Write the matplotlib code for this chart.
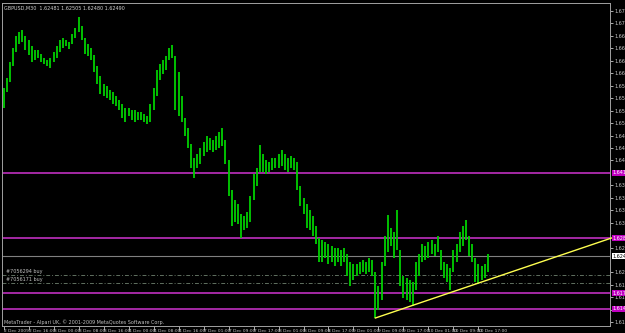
import numpy as np
import matplotlib
matplotlib.use('Agg')
import matplotlib.pyplot as plt
import matplotlib.transforms as mtransforms

# hourly bar highs / lows (GBPUSD)
highs = [1.6585, 1.6605, 1.6637, 1.6665, 1.6689, 1.6697, 1.6701, 1.6689, 1.6681, 1.6669,
         1.6661, 1.6661, 1.6653, 1.6645, 1.6641, 1.6645, 1.6657, 1.6669, 1.6681, 1.6685,
         1.6681, 1.6677, 1.6693, 1.6705, 1.6727, 1.6709, 1.6685, 1.6673, 1.6665, 1.6651,
         1.6629, 1.6609, 1.6593, 1.6589, 1.6581, 1.6577, 1.6569, 1.6561, 1.6553, 1.6545,
         1.6545, 1.6541, 1.6541, 1.6537, 1.6537, 1.6533, 1.6529, 1.6553, 1.6585, 1.6621,
         1.6633, 1.6641, 1.6649, 1.6665, 1.6671, 1.6649, 1.6617, 1.6569, 1.6525, 1.6505,
         1.6473, 1.6445, 1.6453, 1.6465, 1.6477, 1.6489, 1.6485, 1.6481, 1.6489, 1.6497,
         1.6505, 1.6481, 1.6441, 1.6381, 1.6361, 1.6353, 1.6333, 1.6329, 1.6337, 1.6369,
         1.6413, 1.6425, 1.6471, 1.6453, 1.6441, 1.6437, 1.6445, 1.6445, 1.6453, 1.6461,
         1.6453, 1.6445, 1.6449, 1.6445, 1.6437, 1.6389, 1.6365, 1.6353, 1.6341, 1.6329,
         1.6309, 1.6285, 1.6281, 1.6277, 1.6273, 1.6269, 1.6265, 1.6265, 1.6261, 1.6265,
         1.6253, 1.6237, 1.6233, 1.6233, 1.6237, 1.6241, 1.6237, 1.6245, 1.6241, 1.6217,
         1.6189, 1.6237, 1.6289, 1.6331, 1.6305, 1.6297, 1.6341, 1.6261, 1.6209, 1.6205,
         1.6201, 1.6197, 1.6237, 1.6253, 1.6273, 1.6269, 1.6277, 1.6281, 1.6273, 1.6289,
         1.6261, 1.6237, 1.6233, 1.6225, 1.6261, 1.6273, 1.6297, 1.6309, 1.6321, 1.6289,
         1.6273, 1.6245, 1.6233, 1.6229, 1.6233, 1.6253]
lows = [1.6545, 1.6577, 1.6597, 1.6629, 1.6657, 1.6673, 1.6677, 1.6661, 1.6651, 1.6637,
        1.6641, 1.6645, 1.6637, 1.6633, 1.6629, 1.6625, 1.6637, 1.6645, 1.6657, 1.6665,
        1.6669, 1.6663, 1.6673, 1.6685, 1.6697, 1.6681, 1.6653, 1.6649, 1.6641, 1.6617,
        1.6593, 1.6573, 1.6569, 1.6565, 1.6561, 1.6553, 1.6549, 1.6541, 1.6525, 1.6517,
        1.6529, 1.6521, 1.6517, 1.6521, 1.6521, 1.6517, 1.6513, 1.6517, 1.6541, 1.6569,
        1.6601, 1.6613, 1.6621, 1.6641, 1.6645, 1.6541, 1.6529, 1.6517, 1.6489, 1.6465,
        1.6425, 1.6405, 1.6425, 1.6433, 1.6449, 1.6457, 1.6461, 1.6457, 1.6461, 1.6465,
        1.6469, 1.6433, 1.6369, 1.6309, 1.6317, 1.6313, 1.6285, 1.6301, 1.6305, 1.6317,
        1.6361, 1.6389, 1.6417, 1.6417, 1.6413, 1.6417, 1.6421, 1.6425, 1.6425, 1.6429,
        1.6421, 1.6417, 1.6425, 1.6421, 1.6381, 1.6349, 1.6333, 1.6305, 1.6301, 1.6289,
        1.6273, 1.6237, 1.6237, 1.6245, 1.6233, 1.6237, 1.6229, 1.6237, 1.6229, 1.6237,
        1.6209, 1.6189, 1.6201, 1.6209, 1.6213, 1.6217, 1.6213, 1.6217, 1.6209, 1.6125,
        1.6141, 1.6161, 1.6229, 1.6257, 1.6269, 1.6245, 1.6261, 1.6189, 1.6165, 1.6161,
        1.6157, 1.6149, 1.6181, 1.6209, 1.6237, 1.6241, 1.6245, 1.6253, 1.6249, 1.6257,
        1.6221, 1.6205, 1.6197, 1.6181, 1.6217, 1.6237, 1.6257, 1.6269, 1.6281, 1.6249,
        1.6237, 1.6197, 1.6193, 1.6201, 1.6205, 1.6217]

x_labels = ['2 Dec 2009', '2 Dec 16:00', '3 Dec 00:00', '3 Dec 08:00', '3 Dec 16:00',
            '4 Dec 00:00', '4 Dec 08:00', '4 Dec 16:00', '7 Dec 01:00', '7 Dec 09:00',
            '7 Dec 17:00', '8 Dec 01:00', '8 Dec 09:00', '8 Dec 17:00', '9 Dec 01:00',
            '9 Dec 09:00', '9 Dec 17:00', '10 Dec 01:00', '10 Dec 09:00', '10 Dec 17:00']
x_label_bars = [0, 8, 16, 24, 32, 40, 48, 56, 64, 72, 80, 88, 96, 104, 112, 120, 128, 136, 144, 152]
y_ticks = [1.67390, 1.67141, 1.66892, 1.66643, 1.66394, 1.66145, 1.65896, 1.65647, 1.65398,
           1.65149, 1.64900, 1.64651, 1.64402, 1.63904, 1.63655, 1.63406, 1.63157,
           1.62659, 1.62161, 1.61912, 1.61663, 1.61414, 1.61165]

levels = [1.6415, 1.6285, 1.6175, 1.6143]
bid = 1.6249
orders = [1.6211, 1.6195]
order_names = ['#7056294 buy', '#7056171 buy']
trend_bars = [119, 194.6]
trend_prices = [1.6125, 1.6285]

title = 'GBPUSD,M30  1.62481 1.62505 1.62480 1.62490'
credit = 'MetaTrader - Alpari UK, \u00a9 2001-2009 MetaQuotes Software Corp.'

plt.rcParams['font.family'] = ['Liberation Sans Narrow', 'DejaVu Sans']

fig = plt.figure(figsize=(6.25, 3.33), dpi=100, facecolor='black')
ax = fig.add_axes([2/625, 7/333, 608/625, 323/333], facecolor='black')

bars = np.arange(len(highs))
ax.vlines(bars, lows, highs, color='#00d000', lw=1.3, zorder=3)

trans = mtransforms.blended_transform_factory(ax.transAxes, ax.transData)
for lv in levels:
    ax.axhline(lv, color='#c030c0', lw=1.2, zorder=2)
    ax.text(1.004, lv, '%.5f' % lv, transform=trans, fontsize=3.5, color='white',
            va='center', ha='left', clip_on=False, zorder=6,
            bbox=dict(facecolor='#c000c0', edgecolor='none', pad=0.5))
ax.axhline(bid, color='#808080', lw=0.8, zorder=2)
ax.text(1.004, bid, '%.5f' % bid, transform=trans, fontsize=3.5, color='black',
        va='center', ha='left', clip_on=False, zorder=6,
        bbox=dict(facecolor='white', edgecolor='none', pad=0.5))
for lv, name in zip(orders, order_names):
    ax.axhline(lv, color='#607060', lw=0.7, ls=(0, (4, 2, 1, 2)), zorder=2)
    ax.text(0.006, lv + 0.0002, name, transform=trans, fontsize=3.5, color='#c0c0c0',
            va='bottom', ha='left')

ax.plot(trend_bars, trend_prices, color='#ffff50', lw=1.0, zorder=4, clip_on=False)

ax.set_xlim(-0.5, 194.1)
ax.set_ylim(1.6109, 1.6755)

ax.yaxis.tick_right()
ax.set_yticks(y_ticks)
ax.set_yticklabels(['%.5f' % v for v in y_ticks])
ax.tick_params(axis='y', colors='#c8c8c8', labelsize=3.5, length=2, pad=1, width=0.6)
ax.set_xticks(x_label_bars)
ax.set_xticklabels(x_labels, ha='left')
ax.tick_params(axis='x', colors='#c8c8c8', labelsize=3.2, length=3, pad=-0.5, width=0.6)
for sp in ax.spines.values():
    sp.set_color('#a0a0a0')
    sp.set_linewidth(0.7)

ax.text(0.004, 0.99, title, transform=ax.transAxes, fontsize=3.5, color='#d0d0d0',
        va='top', ha='left')
ax.text(0.004, 0.004, credit, transform=ax.transAxes, fontsize=3.5, color='#c0c0c0',
        va='bottom', ha='left')

fig.savefig('out.png', dpi=100, facecolor='black')
